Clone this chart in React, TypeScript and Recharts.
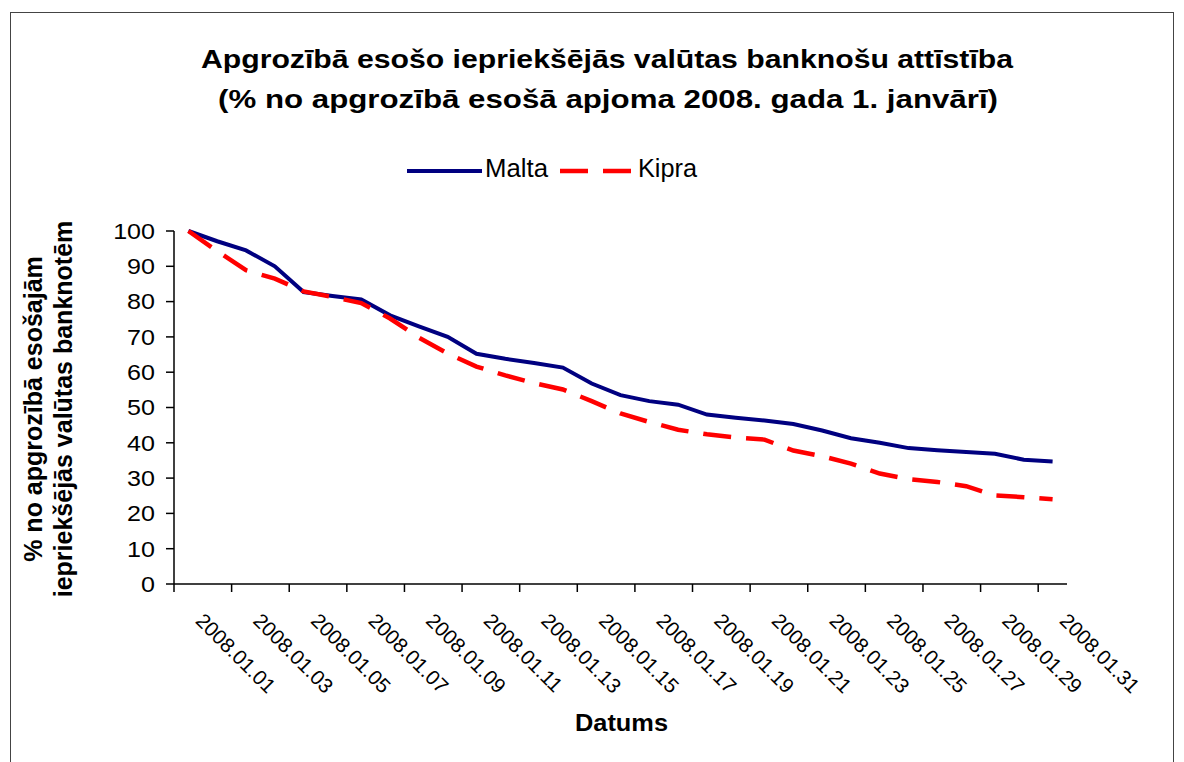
import { LineChart, Line, XAxis, YAxis, Legend } from "recharts";

// Dates on the category axis
const DATES = [
  "2008.01.01", "2008.01.02", "2008.01.03", "2008.01.04", "2008.01.05", "2008.01.06",
  "2008.01.07", "2008.01.08", "2008.01.09", "2008.01.10", "2008.01.11", "2008.01.12",
  "2008.01.13", "2008.01.14", "2008.01.15", "2008.01.16", "2008.01.17", "2008.01.18",
  "2008.01.19", "2008.01.20", "2008.01.21", "2008.01.22", "2008.01.23", "2008.01.24",
  "2008.01.25", "2008.01.26", "2008.01.27", "2008.01.28", "2008.01.29", "2008.01.30",
  "2008.01.31",
];

// % of banknotes in circulation on 1 Jan 2008
const MALTA = [
  100, 97.1, 94.5, 90.0, 82.7, 81.6, 80.6, 76.1, 73.0, 70.0, 65.2, 63.8, 62.6, 61.3, 56.8,
  53.5, 51.8, 50.8, 48.0, 47.1, 46.3, 45.3, 43.5, 41.3, 40.0, 38.5, 37.9, 37.4, 36.9, 35.2, 34.7,
];
const KIPRA = [
  100, 94.3, 88.9, 86.5, 82.9, 81.3, 79.6, 75.2, 69.8, 65.3, 61.6, 59.1, 56.9, 55.1, 51.8,
  48.3, 45.9, 43.7, 42.4, 41.5, 40.9, 37.8, 36.2, 34.1, 31.3, 29.7, 28.9, 27.7, 25.1, 24.6, 24.0,
];

const Y_TICKS = [0, 10, 20, 30, 40, 50, 60, 70, 80, 90, 100];

const W = 1184;
const H = 762;
const PLOT_LEFT = 174;
const PLOT_RIGHT = 1067;
const PLOT_TOP = 231;
const PLOT_BOTTOM = 584;
const HALF = (PLOT_RIGHT - PLOT_LEFT) / DATES.length / 2;
const FONT = "'Liberation Sans', Arial, sans-serif";

const data = DATES.map((date, i) => ({ date, malta: MALTA[i], kipra: KIPRA[i] }));

function DateTick(props: any) {
  const { x, y, payload } = props;
  return (
    <g>
      <line x1={x - HALF} x2={x - HALF} y1={y} y2={y + 8} stroke="#000" strokeWidth={1.5} />
      <text
        transform={`translate(${x + 6},${y + 38}) rotate(45)`}
        fontSize={20.5}
        fontFamily={FONT}
        fill="#000"
        textAnchor="start"
      >
        {payload.value}
      </text>
    </g>
  );
}

function ValueTick(props: any) {
  const { x, y, payload } = props;
  return (
    <text
      transform={`translate(${x},${y}) scale(1.14,1)`}
      fontSize={22}
      fontFamily={FONT}
      fill="#000"
      textAnchor="end"
      dy="0.355em"
    >
      {payload.value}
    </text>
  );
}

function LegendBox(props: any) {
  const items = props.payload || [];
  const malta = items.find((p: any) => p.dataKey === "malta");
  const kipra = items.find((p: any) => p.dataKey === "kipra");
  return (
    <svg width={330} height={40} style={{ overflow: "visible", display: "block" }}>
      <line x1={17} x2={92} y1={21} y2={21} stroke={malta?.color} strokeWidth={4} />
      <text x={95} y={27} fontSize={25} fontFamily={FONT} textLength={63} lengthAdjust="spacingAndGlyphs">
        {malta?.value}
      </text>
      <line x1={170} x2={241} y1={21} y2={21} stroke={kipra?.color} strokeWidth={4.5} strokeDasharray="28 15" />
      <text x={248} y={27} fontSize={25} fontFamily={FONT} textLength={59} lengthAdjust="spacingAndGlyphs">
        {kipra?.value}
      </text>
    </svg>
  );
}

export default function App() {
  return (
    <div
      style={{
        position: "fixed",
        left: 0,
        top: 0,
        width: W,
        height: H,
        overflow: "hidden",
        background: "#fff",
        fontFamily: FONT,
      }}
    >
      <div
        style={{
          position: "absolute",
          left: 10,
          top: 12,
          width: 1162,
          height: 800,
          border: "1.5px solid #444",
        }}
      />
      <div style={{ position: "absolute", left: 0, top: 0 }}>
        <LineChart
          width={W}
          height={H}
          data={data}
          margin={{ top: PLOT_TOP, right: W - PLOT_RIGHT, bottom: H - PLOT_BOTTOM - 130, left: PLOT_LEFT - 70 }}
        >
          <XAxis
            xAxisId="b"
            dataKey="date"
            interval={1}
            height={130}
            padding={{ left: HALF, right: HALF }}
            tickLine={false}
            tickSize={0}
            tickMargin={0}
            axisLine={{ stroke: "#000", strokeWidth: 1.5 }}
            tick={<DateTick />}
          />
          <XAxis
            xAxisId="t"
            dataKey="date"
            orientation="top"
            height={0}
            tick={false}
            tickLine={false}
            axisLine={{ stroke: "#888", strokeWidth: 2 }}
          />
          <YAxis
            yAxisId="l"
            domain={[0, 100]}
            ticks={Y_TICKS}
            interval={0}
            width={70}
            tickSize={8}
            tickMargin={11}
            axisLine={{ stroke: "#000", strokeWidth: 1.5 }}
            tickLine={{ stroke: "#000", strokeWidth: 1.5 }}
            tick={<ValueTick />}
          />
          <YAxis
            yAxisId="r"
            orientation="right"
            width={0}
            tick={false}
            tickLine={false}
            axisLine={{ stroke: "#888", strokeWidth: 2 }}
          />
          <Legend
            content={<LegendBox />}
            wrapperStyle={{ position: "absolute", left: 390, top: 150, width: 330, height: 0 }}
          />
          <Line
            xAxisId="b"
            yAxisId="l"
            type="linear"
            dataKey="malta"
            name="Malta"
            stroke="#000080"
            strokeWidth={4}
            dot={false}
            activeDot={false}
            isAnimationActive={false}
          />
          <Line
            xAxisId="b"
            yAxisId="l"
            type="linear"
            dataKey="kipra"
            name="Kipra"
            stroke="#FF0000"
            strokeWidth={4.5}
            strokeDasharray="28 15"
            dot={false}
            activeDot={false}
            isAnimationActive={false}
          />
        </LineChart>
      </div>
      <svg
        width={W}
        height={H}
        style={{ position: "absolute", left: 0, top: 0, pointerEvents: "none" }}
        fontFamily={FONT}
      >
        <text x={607} y={68} textAnchor="middle" fontSize={25} fontWeight="bold" textLength={812} lengthAdjust="spacingAndGlyphs">
          Apgrozībā esošo iepriekšējās valūtas banknošu attīstība
        </text>
        <text x={608} y={108} textAnchor="middle" fontSize={25} fontWeight="bold" textLength={780} lengthAdjust="spacingAndGlyphs">
          (% no apgrozībā esošā apjoma 2008. gada 1. janvārī)
        </text>
        <text x={621.5} y={731} textAnchor="middle" fontSize={23} fontWeight="bold" textLength={93} lengthAdjust="spacingAndGlyphs">
          Datums
        </text>
        <text transform="translate(42,409) rotate(-90)" textAnchor="middle" fontSize={25} fontWeight="bold">
          % no apgrozībā esošajām
        </text>
        <text transform="translate(71.5,409) rotate(-90)" textAnchor="middle" fontSize={25} fontWeight="bold">
          iepriekšējās valūtas banknotēm
        </text>
      </svg>
    </div>
  );
}
